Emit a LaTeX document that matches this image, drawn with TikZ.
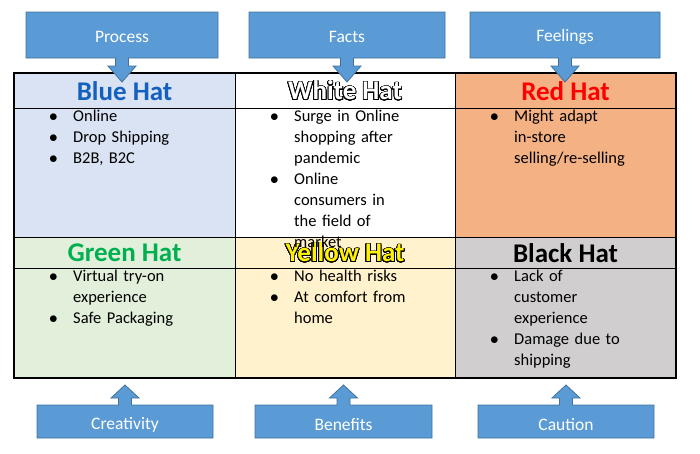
\documentclass[tikz,border=0pt]{standalone}
\usepackage{fontspec}
\setmainfont{Carlito}
\usepackage[copies]{contour}
\contournumber{32}
\contourlength{0.8pt}
\usetikzlibrary{positioning}
\definecolor{cfill}{HTML}{5B9BD5}
\definecolor{cline}{HTML}{41719C}
\definecolor{bluef}{HTML}{DAE3F3}
\definecolor{bluet}{HTML}{1460BE}
\definecolor{redf}{HTML}{F4B183}
\definecolor{greenf}{HTML}{E2EFDA}
\definecolor{greent}{HTML}{00B050}
\definecolor{yellowf}{HTML}{FFF2CC}
\definecolor{blackf}{HTML}{D0CECE}
\newcommand{\downcall}[5]{%
  \pgfmathsetmacro\cx{(#1+#2)/2}
  \draw[cline,fill=cfill,line width=0.8pt] (#1,#3) -- (#2,#3) -- (#2,#4) -- (\cx+6.5,#4) -- (\cx+6.5,#4+8) -- (\cx+14,#4+8) -- (\cx,#4+24) -- (\cx-14,#4+8) -- (\cx-6.5,#4+8) -- (\cx-6.5,#4) -- (#1,#4) -- cycle;
  \node[calltext] (#5) at (\cx,{(#3+#4)/2+2}) {#5};}
\newcommand{\upcall}[5]{%
  \pgfmathsetmacro\cx{(#1+#2)/2}
  \draw[cline,fill=cfill,line width=0.8pt] (#1,#3) -- (\cx-6.5,#3) -- (\cx-6.5,#3-7) -- (\cx-14,#3-7) -- (\cx,#3-20) -- (\cx+14,#3-7) -- (\cx+6.5,#3-7) -- (\cx+6.5,#3) -- (#2,#3) -- (#2,#4) -- (#1,#4) -- cycle;
  \node[calltext] (#5) at (\cx,{(#3+#4)/2+3}) {#5};}
\tikzset{
  calltext/.style={text=white,font=\fontsize{17.5}{20}\selectfont},
  head/.style={font=\fontsize{27}{30}\selectfont\bfseries},
  body/.style={anchor=north west,text width=150pt,align=left,inner sep=0pt,font=\fontsize{16.5}{21}\selectfont},
}
\hyphenpenalty=10000
\exhyphenpenalty=10000
\newcommand{\itm}[1]{\hangindent=26pt\hangafter=1\makebox[26pt][l]{\hspace{2pt}$\bullet$}#1\par}
\begin{document}
\begin{tikzpicture}[x=1pt,y=-1pt]
\useasboundingbox (0,0) rectangle (700,453);
\fill[bluef] (14,73) rectangle (235,237);
\fill[white] (235,73) rectangle (455,237);
\fill[redf] (455,73) rectangle (676,237);
\fill[greenf] (14,237) rectangle (235,378);
\fill[yellowf] (235,237) rectangle (455,378);
\fill[blackf] (455,237) rectangle (676,378);
\draw[line width=0.6pt] (14,108) -- (676,108) (14,237) -- (676,237) (14,268) -- (676,268) (235,73) -- (235,378) (455,73) -- (455,378);
\draw[line width=1.2pt] (14,73) rectangle (676,378);
\node[head,text=bluet] (bh) at (124.5,91) {Blue Hat};
\node[head] (wh) at (345,91) {\contour{black}{\textcolor{white}{White Hat}}};
\node[head,text=red] (rh) at (565.5,91) {Red Hat};
\node[head,text=greent] (gh) at (124.5,253) {Green Hat};
\node[head] (yh) at (345,253) {\contour{black}{\textcolor{yellow}{Yellow Hat}}};
\node[head] (kh) at (565.5,253) {Black Hat};
\node[body] (b1) at (47,110) {\itm{Online}\itm{Drop Shipping}\itm{B2B, B2C}};
\node[body,text width=140pt] (b2) at (268,110) {\itm{Surge in Online shopping after pandemic}\itm{Online consumers in the field of market}};
\node[body,text width=165pt] (b3) at (488,110) {\itm{Might adapt in-store selling/re-selling}};
\node[body,text width=130pt] (b4) at (47,270) {\itm{Virtual try-on experience}\itm{Safe Packaging}};
\node[body,text width=140pt] (b5) at (268,270) {\itm{No health risks}\itm{At comfort from home}};
\node[body,text width=140pt] (b6) at (488,270) {\itm{Lack of customer experience}\itm{Damage due to shipping}};
\downcall{26}{218}{12}{58}{Process}
\downcall{249}{445}{12}{58}{Facts}
\downcall{470}{660}{12}{58}{Feelings}
\upcall{37}{213}{405}{438}{Creativity}
\upcall{255}{432}{405}{438}{Benefits}
\upcall{478}{654}{405}{438}{Caution}
\end{tikzpicture}
\end{document}
